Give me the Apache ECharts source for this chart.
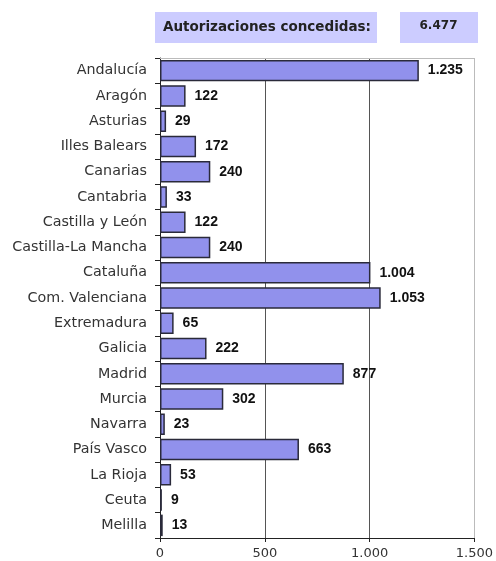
<!DOCTYPE html>
<html><head><meta charset="utf-8">
<script src="https://cdn.jsdelivr.net/npm/echarts@6/dist/echarts.min.js"></script>
<style>html,body{margin:0;padding:0;background:#fff}#c{width:496px;height:561px}</style>
</head><body><div id="c"></div>
<script>
const categories = ["Andalucía","Aragón","Asturias","Illes Balears","Canarias","Cantabria","Castilla y León","Castilla-La Mancha","Cataluña","Com. Valenciana","Extremadura","Galicia","Madrid","Murcia","Navarra","País Vasco","La Rioja","Ceuta","Melilla"];
const values = [1235,122,29,172,240,33,122,240,1004,1053,65,222,877,302,23,663,53,9,13];
const xTicks = {min:0, max:1500, interval:500};
const titleLabel = "Autorizaciones concedidas:";
const totalLabel = "6.477";

const fmt = v => String(v).replace(/\B(?=(\d{3})+(?!\d))/g, ".");
const FONT = "DejaVu Sans";
const chart = echarts.init(document.getElementById('c'), null, {renderer:'canvas'});
chart.setOption({
  animation:false,
  textStyle:{fontFamily:FONT},
  grid:{left:160,right:18,top:58,bottom:23,containLabel:false},
  xAxis:[{
    type:'value', min:xTicks.min, max:xTicks.max, interval:xTicks.interval,
    axisLine:{show:true,lineStyle:{color:'#222',width:1}},
    axisTick:{show:true,length:4,lineStyle:{color:'#222'}},
    axisLabel:{color:'#333',fontSize:13,fontFamily:FONT,margin:9,formatter:v=>fmt(v)},
    splitLine:{show:true,lineStyle:{color:['#555','#555','#555','#bbb'],width:1}}
  },{
    type:'value', position:'top', min:xTicks.min, max:xTicks.max, interval:xTicks.interval,
    axisLine:{show:true,lineStyle:{color:'#bbb',width:1}},
    axisTick:{show:false},axisLabel:{show:false},splitLine:{show:false}
  }],
  yAxis:{
    type:'category', data:categories, inverse:true,
    axisLine:{show:true,lineStyle:{color:'#222',width:1}},
    axisTick:{show:true,length:5,lineStyle:{color:'#222'}},
    axisLabel:{color:'#333',fontSize:14.3,fontFamily:FONT,margin:13}
  },
  series:[{
    type:'bar', data:values, xAxisIndex:0, barCategoryGap:'15%',
    itemStyle:{color:'#9191EC',borderColor:'#2a2a3a',borderWidth:1.5},
    label:{show:true,position:'right',distance:9,color:'#111',fontWeight:'bold',fontSize:14,fontFamily:'Liberation Sans',formatter:p=>fmt(p.value)}
  }],
  graphic:[
    {type:'rect',shape:{x:155,y:12,width:222,height:31},style:{fill:'#CCCCFF'}},
    {type:'text',x:267,y:27.5,style:{text:titleLabel,fill:'#222',font:'bold 13.5px '+FONT,align:'center',verticalAlign:'middle'}},
    {type:'rect',shape:{x:400,y:12,width:78,height:31},style:{fill:'#CCCCFF'}},
    {type:'text',x:438.5,y:25.5,style:{text:totalLabel,fill:'#222',font:'bold 12px '+FONT,align:'center',verticalAlign:'middle'}}
  ]
});
</script></body></html>
